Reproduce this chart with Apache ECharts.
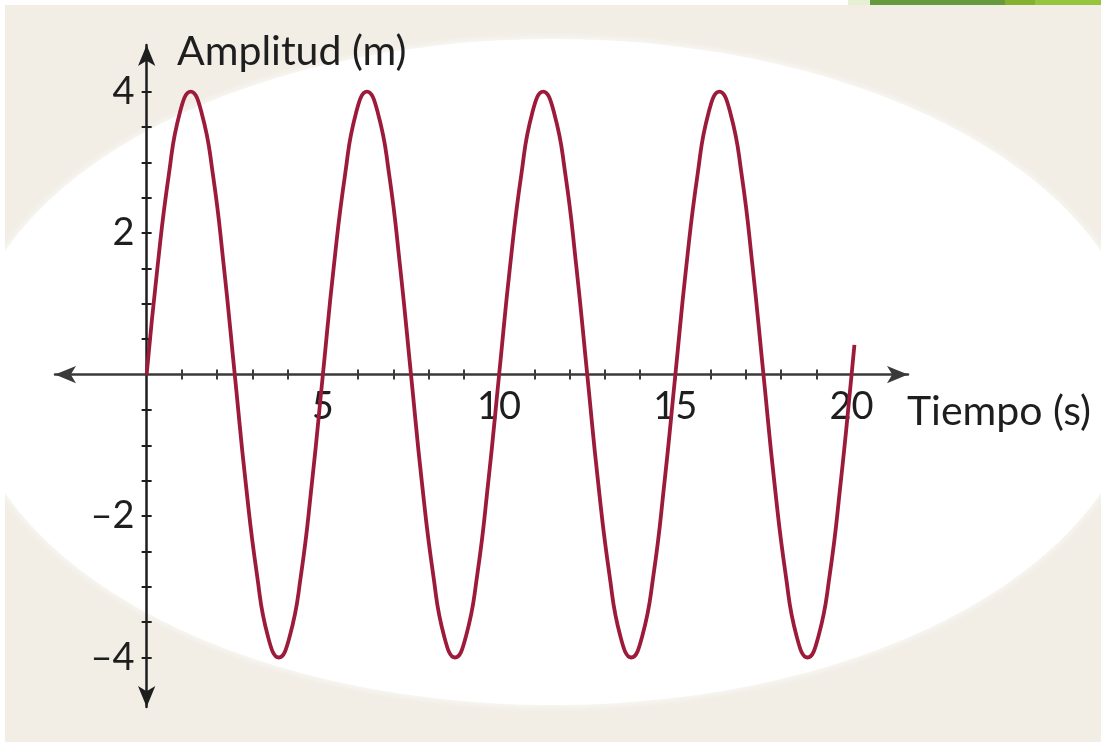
<!DOCTYPE html>
<html>
<head>
<meta charset="utf-8">
<style>
  html, body { margin: 0; padding: 0; background: #ffffff; }
  #chart { width: 1101px; height: 742px; }
</style>
<script src="https://cdn.jsdelivr.net/npm/echarts@6/dist/echarts.min.js"></script>
</head>
<body>
<div id="chart"></div>
<script>
// Sampled time instants (s)
const tiempo = [
  0, 0.31, 0.63, 0.94, 1.25, 1.56, 1.88, 2.19, 2.5, 2.81, 3.13, 3.44, 3.75, 4.06, 4.38, 4.69,
  5, 5.31, 5.63, 5.94, 6.25, 6.56, 6.88, 7.19, 7.5, 7.81, 8.13, 8.44, 8.75, 9.06, 9.38, 9.69,
  10, 10.31, 10.63, 10.94, 11.25, 11.56, 11.88, 12.19, 12.5, 12.81, 13.13, 13.44, 13.75, 14.06, 14.38, 14.69,
  15, 15.31, 15.63, 15.94, 16.25, 16.56, 16.88, 17.19, 17.5, 17.81, 18.13, 18.44, 18.75, 19.06, 19.38, 19.69,
  20, 20.08
];
// Amplitude (m) at each instant
const amplitud = [
  0, 1.53, 2.83, 3.7, 4, 3.7, 2.83, 1.53, 0, -1.53, -2.83, -3.7, -4, -3.7, -2.83, -1.53,
  0, 1.53, 2.83, 3.7, 4, 3.7, 2.83, 1.53, 0, -1.53, -2.83, -3.7, -4, -3.7, -2.83, -1.53,
  0, 1.53, 2.83, 3.7, 4, 3.7, 2.83, 1.53, 0, -1.53, -2.83, -3.7, -4, -3.7, -2.83, -1.53,
  0, 1.53, 2.83, 3.7, 4, 3.7, 2.83, 1.53, 0, -1.53, -2.83, -3.7, -4, -3.7, -2.83, -1.53,
  0, 0.42
];
// Tick marks and labels
const xTicks = [1, 2, 3, 4, 5, 6, 7, 8, 9, 10, 11, 12, 13, 14, 15, 16, 17, 18, 19, 20];
const xLabels = [5, 10, 15, 20];
const yTicks = [-4, -3.5, -3, -2.5, -2, -1.5, -1, -0.5, 0.5, 1, 1.5, 2, 2.5, 3, 3.5, 4];
const yLabels = [-4, -2, 2, 4];
const xTitle = 'Tiempo (s)';
const yTitle = 'Amplitud (m)';

const FONT = 'Lato';
const INK = '#1e1e1e';
const X_MIN = -2.6, X_MAX = 21.6;
const Y_MIN = -4.7, Y_MAX = 4.66;

// plot box
const G = { left: 55, top: 45, width: 853, height: 662 };
// shift each axis from the grid edge onto the zero line of the other axis
const xAxisUp = -G.height * (0 - Y_MIN) / (Y_MAX - Y_MIN);
const xAxisDown = -G.height * (Y_MAX - 0) / (Y_MAX - Y_MIN);
const yAxisRight = -G.width * (0 - X_MIN) / (X_MAX - X_MIN);
const yAxisLeft = -G.width * (X_MAX - 0) / (X_MAX - X_MIN);

const points = tiempo.map((t, i) => [t, amplitud[i]]);
const dash = v => (v < 0 ? '\u2013' + Math.abs(v) : String(v));

const X_COLOR = '#3a3a3a';

const chart = echarts.init(document.getElementById('chart'), null, { renderer: 'canvas' });

chart.setOption({
  animation: false,
  backgroundColor: '#ffffff',
  graphic: [
    { type: 'rect', z: -30, silent: true, shape: { x: 5, y: 5, width: 1096, height: 737 }, style: { fill: '#f2eee6' } },
    // soft-edged white oval behind the plot
    { type: 'circle', z: -20, silent: true, x: 553, y: 372, scaleX: 588 / 333, scaleY: 1,
      shape: { cx: 0, cy: 0, r: 333 },
      style: { fill: '#ffffff', shadowBlur: 8, shadowColor: 'rgba(255,255,255,0.9)' } },
    { type: 'rect', z: -10, silent: true, shape: { x: 848, y: 0, width: 22, height: 5 }, style: { fill: '#e6f0d2' } },
    { type: 'rect', z: -10, silent: true, shape: { x: 870, y: 0, width: 135, height: 5 }, style: { fill: '#67993f' } },
    { type: 'rect', z: -10, silent: true, shape: { x: 1005, y: 0, width: 30, height: 5 }, style: { fill: '#84b22f' } },
    { type: 'rect', z: -10, silent: true, shape: { x: 1035, y: 0, width: 66, height: 5 }, style: { fill: '#95c43d' } },
    { type: 'text', z: 10, silent: true, x: 177, y: 52,
      style: { text: yTitle, fontFamily: FONT, fontSize: 41, fill: INK, align: 'left', verticalAlign: 'middle' } },
    { type: 'text', z: 10, silent: true, x: 907, y: 412,
      style: { text: xTitle, fontFamily: FONT, fontSize: 41, fill: INK, align: 'left', verticalAlign: 'middle' } }
  ],
  grid: Object.assign({ containLabel: false, outerBoundsMode: 'none' }, G),
  xAxis: [
    {
      type: 'value', position: 'bottom', offset: xAxisUp, min: X_MIN, max: X_MAX,
      splitLine: { show: false },
      axisLine: { show: true, onZero: false, symbol: ['arrow', 'arrow'], symbolSize: [13, 21],
        lineStyle: { color: X_COLOR, width: 2.5 } },
      axisTick: { show: true, length: 5, customValues: xTicks, lineStyle: { color: X_COLOR, width: 2 } },
      axisLabel: { show: true, customValues: xLabels, margin: 13, fontFamily: FONT, fontSize: 38, color: INK }
    },
    {
      type: 'value', position: 'top', offset: xAxisDown, min: X_MIN, max: X_MAX,
      splitLine: { show: false },
      axisLine: { show: false, onZero: false },
      axisTick: { show: true, length: 5, customValues: xTicks, lineStyle: { color: X_COLOR, width: 2 } },
      axisLabel: { show: false }
    }
  ],
  yAxis: [
    {
      type: 'value', position: 'left', offset: yAxisRight, min: Y_MIN, max: Y_MAX,
      splitLine: { show: false },
      axisLine: { show: true, onZero: false, symbol: ['arrow', 'arrow'], symbolSize: [13, 21],
        lineStyle: { color: INK, width: 2.5 } },
      axisTick: { show: true, length: 5, customValues: yTicks, lineStyle: { color: INK, width: 2 } },
      axisLabel: { show: true, customValues: yLabels, margin: 12, fontFamily: FONT, fontSize: 38, color: INK, formatter: dash }
    },
    {
      type: 'value', position: 'right', offset: yAxisLeft, min: Y_MIN, max: Y_MAX,
      splitLine: { show: false },
      axisLine: { show: false, onZero: false },
      axisTick: { show: true, length: 5, customValues: yTicks, lineStyle: { color: INK, width: 2 } },
      axisLabel: { show: false }
    }
  ],
  series: [{
    type: 'line',
    xAxisIndex: 0, yAxisIndex: 0,
    data: points,
    smooth: true,
    showSymbol: false,
    lineStyle: { color: '#9c1b3b', width: 3.8 },
    z: 3
  }]
});
</script>
</body>
</html>
